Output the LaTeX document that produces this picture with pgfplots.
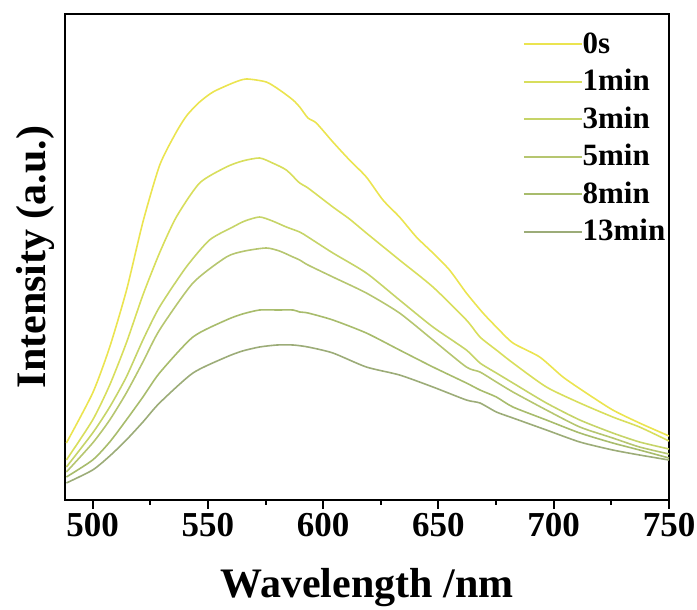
\documentclass[border=0pt]{standalone}
\usepackage{fontspec}
\setmainfont{Liberation Serif}
\usepackage{pgfplots}
\pgfplotsset{compat=1.18}

\definecolor{c0}{RGB}{235,228,80}
\definecolor{c1}{RGB}{216,222,92}
\definecolor{c3}{RGB}{198,212,104}
\definecolor{c5}{RGB}{182,198,112}
\definecolor{c8}{RGB}{168,188,108}
\definecolor{c13}{RGB}{156,172,120}

\begin{document}
\begin{tikzpicture}
\begin{axis}[
    scale only axis,
    width=604pt, height=486pt,
    xmin=488, xmax=750,
    ymin=0, ymax=486,
    axis line style={line width=2pt},
    xtick={500,550,...,750},
    minor xtick={525,575,...,725},
    ytick=\empty,
    tick pos=bottom,
    tick align=outside,
    major tick length=9pt,
    minor tick length=5pt,
    every tick/.style={black, line width=2pt},
    /pgf/number format/assume math mode=true,
    /pgf/number format/1000 sep={},
    xticklabel style={font=\fontsize{35}{36}\selectfont\bfseries, yshift=-1pt},
    xlabel={Wavelength /nm},
    ylabel={Intensity (a.u.)},
    label style={font=\fontsize{42}{43}\selectfont\bfseries},
    xlabel style={yshift=-24pt},
    ylabel style={yshift=-2pt},
    legend style={draw=none, fill=none, at={(0.753,0.969)}, anchor=north west,
        font=\fontsize{31}{32}\selectfont\bfseries,
        nodes={inner sep=0pt, text height=22pt, text depth=0pt},
        row sep=15.5pt},
    legend cell align=left,
    legend image code/.code={\draw[#1, line width=1.6pt] (0pt,-2pt) -- (58pt,-2pt);},
    /tikz/every even column/.append style={column sep=7pt},
    every axis plot/.append style={line width=1.6pt, smooth, tension=0.4},
]
\addplot[c0] coordinates {
(488.6,57) (500,107) (507.4,153) (514.7,210) (521.8,278) (529.1,335) (536.3,368)
(541,385) (546.4,398) (552.2,408) (560.8,417) (566.6,421) (575.3,418) (581.1,410) (586.9,400)
(589.8,393) (593.4,382) (597,377) (604.2,358) (611.4,340) (618.7,323) (625.9,300)
(633.1,283) (640.4,263) (647.6,247) (654.8,230) (662.1,207) (669.3,187) (675.1,173)
(682.3,157) (693.9,143) (704,123) (714.1,107) (725.6,90) (737.2,77) (750,64)
};
\addplot[c1] coordinates {
(488.6,40) (500,80) (507.4,115) (514.6,157) (521.8,205) (529,247) (536.3,283)
(546.4,317) (558,333) (565,339) (572.4,342) (578,337) (584,330) (589.8,317)
(593.4,312) (604.2,293) (611.4,281) (618.7,267) (633.1,240) (647.6,213) (662.1,180)
(668,163) (675.1,150) (682.3,137) (696.8,113) (711.3,97) (725.6,83) (737.2,73) (750,59)
};
\addplot[c3] coordinates {
(488.6,33) (500,67) (507.4,93) (514.6,123) (521.8,160) (529,193) (540.6,233)
(550.7,260) (560.8,273) (566,279) (572.4,283) (578,279) (584,273) (589.8,268)
(593.4,263) (604.2,247) (618.7,227) (633.1,200) (647.6,173) (662.1,150) (668,137)
(675.1,127) (682.3,117) (696.8,97) (711.3,80) (725.6,67) (737.2,58) (750,51)
};
\addplot[c5] coordinates {
(488.6,28) (500,57) (507.4,80) (514.6,107) (521.8,138) (529,170) (543.5,217)
(558,243) (566,249) (575.3,252) (581,249) (586.9,243) (589.8,240) (593.4,235)
(604.2,223) (618.7,207) (633.1,187) (647.6,160) (662.1,133) (668,128) (675.1,118)
(682.3,108) (696.8,90) (711.3,73) (725.6,62) (737.2,53) (750,46)
};
\addplot[c8] coordinates {
(488.6,23) (500,40) (507.4,58) (514.6,80) (521.8,103) (529,127) (543.5,163)
(558,180) (565,186) (572.4,190) (580,190) (586.9,190) (589.8,188) (593.4,187)
(604.2,180) (618.7,167) (633.1,150) (647.6,133) (662.1,117) (668,110) (675.1,103)
(682.3,93) (696.8,80) (711.3,67) (725.6,57) (737.2,50) (750,42)
};
\addplot[c13] coordinates {
(488.6,17) (500,30) (507.4,44) (514.6,60) (521.8,78) (529,97) (543.5,127)
(558,143) (565,149) (572.4,153) (580,155) (586.9,155) (593.4,153) (604.2,147)
(618.7,133) (633.1,125) (647.6,113) (662.1,100) (668,97) (675.1,88) (682.3,82)
(696.8,70) (711.3,58) (725.6,50) (737.2,45) (750,40)
};
\legend{0s, 1min, 3min, 5min, 8min, 13min}
\end{axis}
\pgfresetboundingbox
\path[use as bounding box] ([xshift=-65pt,yshift=-110pt]current axis.south west)
    rectangle ([xshift=28pt,yshift=14pt]current axis.north east);
\end{tikzpicture}
\end{document}
